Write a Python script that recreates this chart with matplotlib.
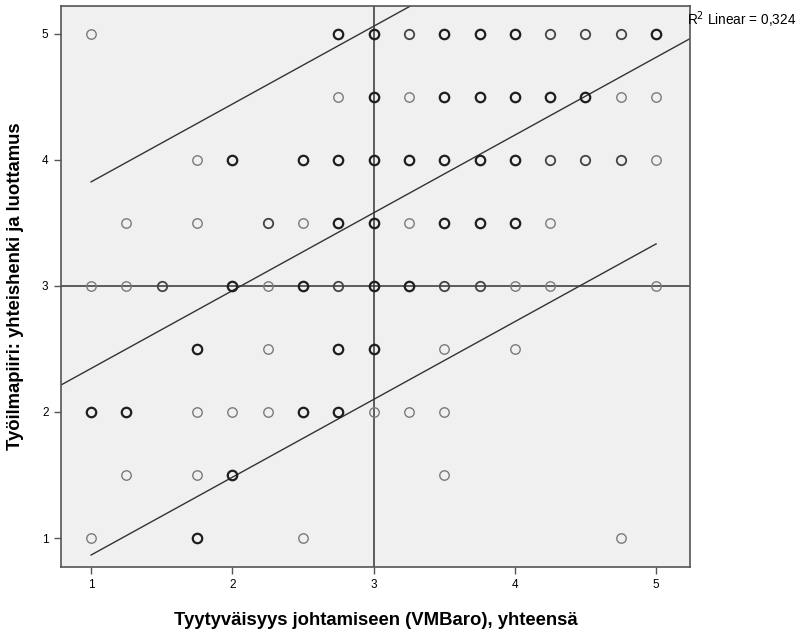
import matplotlib
matplotlib.use("Agg")
import matplotlib.pyplot as plt
import numpy as np

# ---- data ----
# each row: y value, list of x values, list of overlap weights (1 light .. 3 dark)
row_y = [5.0, 4.5, 4.0, 3.5, 3.0, 2.5, 2.0, 1.5, 1.0]
row_x = [
    [1, 2.75, 3, 3.25, 3.5, 3.75, 4, 4.25, 4.5, 4.75, 5],
    [2.75, 3, 3.25, 3.5, 3.75, 4, 4.25, 4.5, 4.75, 5],
    [1.75, 2, 2.5, 2.75, 3, 3.25, 3.5, 3.75, 4, 4.25, 4.5, 4.75, 5],
    [1.25, 1.75, 2.25, 2.5, 2.75, 3, 3.25, 3.5, 3.75, 4, 4.25],
    [1, 1.25, 1.5, 2, 2.25, 2.5, 2.75, 3, 3.25, 3.5, 3.75, 4, 4.25, 5],
    [1.75, 2.25, 2.75, 3, 3.5, 4],
    [1, 1.25, 1.75, 2, 2.25, 2.5, 2.75, 3, 3.25, 3.5],
    [1.25, 1.75, 2, 3.5],
    [1, 1.75, 2.5, 4.75],
]
row_w = [
    [1, 3, 3, 2, 3, 3, 3, 2, 2, 2, 3],
    [1, 3, 1, 3, 3, 3, 3, 3, 1, 1],
    [1, 3, 3, 3, 3, 3, 3, 3, 3, 2, 2, 2, 1],
    [1, 1, 2, 1, 3, 3, 1, 3, 3, 3, 1],
    [1, 1, 2, 3, 1, 3, 2, 3, 3, 2, 2, 1, 1, 1],
    [3, 1, 3, 3, 1, 1],
    [3, 3, 1, 1, 1, 3, 3, 1, 1, 1],
    [1, 1, 3, 1],
    [1, 3, 1, 1],
]
fit_intercept = 1.728
fit_slope = 0.617
band_half = 1.48
r2_text = "R$^2$ Linear = 0,324"
ref_x = 3
ref_y = 3
x_ticks = [1, 2, 3, 4, 5]
y_ticks = [1, 2, 3, 4, 5]
x_label = "Tyytyväisyys johtamiseen (VMBaro), yhteensä"
y_label = "Työilmapiiri: yhteishenki ja luottamus"

fig = plt.figure(figsize=(8.09, 6.31), dpi=100)
ax = fig.add_axes([61/809, 1-567/631, (690-61)/809, (567-6)/631])
ax.set_facecolor("#F0F0F0")
ax.set_xlim(0.787, 5.24)
ax.set_ylim(0.77, 5.22)

edge_cols = {1: "#7a7a7a", 2: "#444444", 3: "#1e1e1e"}
edge_lw = {1: 1.0, 2: 1.3, 3: 1.6}
for y, xs, ws in zip(row_y, row_x, row_w):
    for x, w in zip(xs, ws):
        ax.plot([x], [y], marker="o", markersize=6.8, markerfacecolor="none",
                markeredgecolor=edge_cols[w], markeredgewidth=edge_lw[w], zorder=3)

ax.axvline(ref_x, color="#333333", lw=1.1, zorder=2)
ax.axhline(ref_y, color="#333333", lw=1.1, zorder=2)

xl = np.array([0.787, 5.24])
ax.plot(xl, fit_intercept + fit_slope*xl, color="#333333", lw=1.0, zorder=2)
xb = np.array([1.0, 5.0])
ax.plot(xb, fit_intercept + fit_slope*xb + band_half, color="#333333", lw=1.0, zorder=2)
ax.plot(xb, fit_intercept + fit_slope*xb - band_half, color="#333333", lw=1.0, zorder=2)

for s in ax.spines.values():
    s.set_color("#555555")
    s.set_linewidth(1.2)

ax.set_xticks(x_ticks)
ax.set_yticks(y_ticks)
ax.set_xticklabels([str(t) for t in x_ticks], fontsize=8.5, family="Liberation Sans")
ax.set_yticklabels([str(t) for t in y_ticks], fontsize=8.5, family="Liberation Sans")
ax.tick_params(direction="out", length=5, width=1.0, color="#555555", pad=4)

ax.set_xlabel(x_label, fontsize=13.3, fontweight="bold", family="Liberation Sans", labelpad=15)
ax.set_ylabel(y_label, fontsize=13.3, fontweight="bold", family="Liberation Sans", labelpad=13)

fig.text(687/809, 1-20/631, r2_text, fontsize=9.8, family="Liberation Sans",
         ha="left", va="center")

fig.savefig("out.png", dpi=100)
